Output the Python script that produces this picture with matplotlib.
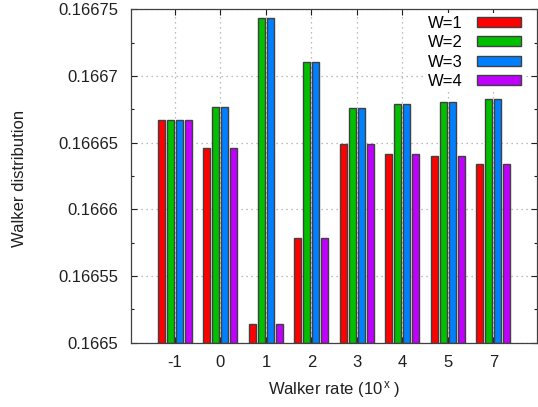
import numpy as np
import matplotlib
matplotlib.use('Agg')
import matplotlib.pyplot as plt
from matplotlib.patches import Patch
from matplotlib.ticker import MultipleLocator

plt.rcParams['font.family'] = ['Liberation Sans', 'DejaVu Sans']
plt.rcParams['mathtext.fontset'] = 'custom'
plt.rcParams['mathtext.rm'] = 'Liberation Sans'
plt.rcParams['mathtext.it'] = 'Liberation Sans'

# data
rates = ['-1', '0', '1', '2', '3', '4', '5', '7']
w1 = [0.1666667, 0.1666458, 0.1665140, 0.1665788, 0.1666488, 0.1666418, 0.1666398, 0.1666343]
w2 = [0.1666667, 0.1666768, 0.1667433, 0.1667103, 0.1666758, 0.1666788, 0.1666803, 0.1666826]
w3 = [0.1666667, 0.1666768, 0.1667433, 0.1667103, 0.1666758, 0.1666788, 0.1666803, 0.1666826]
w4 = [0.1666667, 0.1666458, 0.1665140, 0.1665788, 0.1666488, 0.1666418, 0.1666398, 0.1666343]
series_labels = ['W=1', 'W=2', 'W=3', 'W=4']
y_ticks = [0.1665, 0.16655, 0.1666, 0.16665, 0.1667, 0.16675]
y_tick_labels = ['0.1665', '0.16655', '0.1666', '0.16665', '0.1667', '0.16675']

colors = ['#ff0000', '#00c000', '#0080ff', '#c000ff']

fig = plt.figure(figsize=(5.38, 4.07), dpi=100)
ax = fig.add_axes([0.2435, 0.158, 0.7545, 0.819])

x = np.arange(len(rates))
step = 0.198
width = 0.154
for i, vals in enumerate([w1, w2, w3, w4]):
    ax.bar(x + (i - 1.5) * step, np.array(vals) - 0.1665, bottom=0.1665, width=width,
           color=colors[i], edgecolor='#404040', linewidth=1.0, zorder=2)

ax.set_xlim(-0.967, 7.956)
ax.set_ylim(0.1665, 0.16675)
ax.set_xticks(x)
ax.set_xticklabels(rates)
ax.set_yticks(y_ticks)
ax.set_yticklabels(y_tick_labels)
ax.yaxis.set_minor_locator(MultipleLocator(0.000025))

ax.tick_params(which='both', direction='in', top=True, right=True, labelsize=12, colors='#202020')
ax.tick_params(which='major', length=4.5, width=0.8, pad=9)
ax.tick_params(which='minor', length=2.3, width=0.8)
ax.tick_params(axis='x', which='minor', top=False, bottom=False)

ax.grid(True, which='major', color='#a8a8a8', linestyle=(0, (1, 3)), linewidth=0.9)
ax.set_axisbelow(True)
for s in ax.spines.values():
    s.set_color('#404040')
    s.set_linewidth(0.9)

# axis titles placed in figure coords
fig.text(20 / 538, 1 - 178.5 / 407, 'Walker distribution', rotation=90,
         ha='center', va='center', fontsize=12, color='#202020')
fig.text(334 / 538, 1 - 389 / 407, 'Walker rate (10$^{\\,\\mathrm{x}}$\u2009)',
         ha='center', va='center', fontsize=12, color='#202020')

handles = [Patch(facecolor=c, edgecolor='#404040', linewidth=1.0) for c in colors]
leg = ax.legend(handles, series_labels, loc='upper right', bbox_to_anchor=(0.969, 0.99),
                markerfirst=False, fontsize=12, frameon=True, fancybox=False,
                handlelength=2.64, handleheight=0.54, handletextpad=0.84,
                labelspacing=0.26, borderpad=0.2, borderaxespad=0.0)
leg.get_frame().set_edgecolor('none')
leg.get_frame().set_facecolor('white')
leg.get_frame().set_alpha(1.0)

plt.savefig('out.png', dpi=100)
